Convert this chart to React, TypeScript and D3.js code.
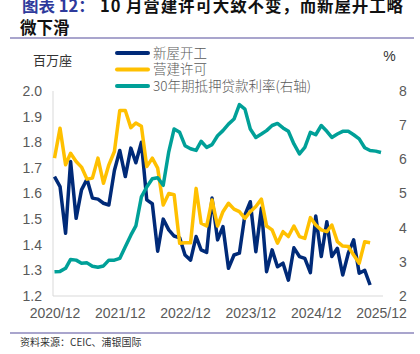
import React, { useEffect, useRef } from "react";
import {
  select,
  scaleLinear,
  scaleTime,
  axisLeft,
  axisRight,
  axisBottom,
  line,
} from "d3";

const width = 420;
const height = 354;
const plotLeft = 53;
const plotRight = 383;
const plotTop = 91;
const plotBottom = 296;

// 新屋开工 (百万座), 2020/12 - 2025/10
const starts = [
  1.666, 1.627, 1.445, 1.725, 1.503, 1.614, 1.656, 1.582, 1.578, 1.562, 1.555,
  1.69, 1.768, 1.666, 1.777, 1.72, 1.8, 1.575, 1.56, 1.375, 1.5, 1.458, 1.434,
  1.427, 1.36, 1.34, 1.432, 1.38, 1.37, 1.582, 1.419, 1.471, 1.308, 1.36,
  1.367, 1.516, 1.568, 1.373, 1.543, 1.295, 1.38, 1.314, 1.328, 1.262, 1.388,
  1.354, 1.347, 1.291, 1.512, 1.354, 1.49, 1.354, 1.386, 1.282, 1.367, 1.419,
  1.289, 1.3, 1.243,
];

// 营建许可 (百万座), 2020/12 - 2025/10
const permits = [
  1.738, 1.855, 1.712, 1.757, 1.725, 1.703, 1.656, 1.66, 1.738, 1.64, 1.712,
  1.764, 1.924, 1.924, 1.857, 1.875, 1.862, 1.705, 1.738, 1.699, 1.555, 1.6,
  1.595, 1.406, 1.408, 1.408, 1.62, 1.484, 1.473, 1.575, 1.473, 1.529, 1.562,
  1.539, 1.529, 1.503, 1.529, 1.549, 1.578, 1.473, 1.458, 1.406, 1.451, 1.432,
  1.473, 1.432, 1.425, 1.506, 1.477, 1.458, 1.451, 1.477, 1.412, 1.395, 1.393,
  1.36, 1.328, 1.412, 1.408,
];

// 30年期抵押贷款利率 (%), 2020/12 - 2025/12
const mortgage = [
  2.71, 2.72, 2.81, 3.07, 3.05, 2.96, 2.97, 2.87, 2.84, 2.88, 3.05, 3.05, 3.1,
  3.44, 3.78, 4.05, 4.9, 5.19, 5.43, 5.46, 5.24, 6.22, 6.89, 6.79, 6.4, 6.31,
  6.26, 6.53, 6.35, 6.43, 6.69, 6.84, 7.03, 7.18, 7.6, 7.47, 6.89, 6.64, 6.74,
  6.84, 6.99, 7.05, 6.92, 6.82, 6.45, 6.16, 6.35, 6.79, 6.72, 6.99, 6.82, 6.64,
  6.74, 6.82, 6.82, 6.72, 6.6, 6.34, 6.26, 6.24, 6.2,
];

const xTickLabels = ["2020/12", "2021/12", "2022/12", "2023/12", "2024/12", "2025/12"];
const leftTicks = [1.2, 1.3, 1.4, 1.5, 1.6, 1.7, 1.8, 1.9, 2.0];
const rightTicks = [2, 3, 4, 5, 6, 7, 8];

const legendItems = [
  { label: "新屋开工", color: "#002a78" },
  { label: "营建许可", color: "#ffc000" },
  { label: "30年期抵押贷款利率(右轴)", color: "#00a098" },
];

const monthOf = (i: number) => new Date(2020, 11 + i, 1);
const parseTick = (s: string) => {
  const [y, m] = s.split("/").map(Number);
  return new Date(y, m - 1, 1);
};

const App = () => {
  const svgRef = useRef<SVGSVGElement>(null);

  useEffect(() => {
    const svg = select(svgRef.current);
    svg.selectAll("*").remove();

    const x = scaleTime()
      .domain([parseTick(xTickLabels[0]), parseTick(xTickLabels[xTickLabels.length - 1])])
      .range([54.5, 381]);
    const yL = scaleLinear().domain([1.2, 2.0]).range([plotBottom, plotTop]);
    const yR = scaleLinear().domain([2, 8]).range([plotBottom, plotTop]);

    // title
    const titleFont = (t: any) =>
      t
        .attr("font-size", 16.5)
        .attr("font-weight", "bold")
        .attr("font-family", "'Noto Sans CJK SC'");
    svg
      .append("text")
      .attr("x", 22)
      .attr("y", 11.5)
      .attr("fill", "#2e3a9c")
      .call(titleFont)
      .text("图表 12：");
    svg
      .append("text")
      .attr("x", 100)
      .attr("y", 11.5)
      .attr("fill", "#111")
      .call(titleFont)
      .attr("textLength", 303)
      .attr("lengthAdjust", "spacing")
      .text("10 月营建许可大致不变，而新屋开工略");
    svg
      .append("text")
      .attr("x", 20)
      .attr("y", 34)
      .attr("fill", "#111")
      .call(titleFont)
      .text("微下滑");

    // separator lines
    [38, 333].forEach((yy) => {
      svg
        .append("line")
        .attr("x1", 10)
        .attr("x2", 414)
        .attr("y1", yy)
        .attr("y2", yy)
        .attr("stroke", "#a9a5cd")
        .attr("stroke-width", 2);
    });

    svg
      .append("text")
      .attr("x", 20)
      .attr("y", 345.5)
      .attr("fill", "#333")
      .attr("font-size", 10)
      .attr("font-family", "'Noto Sans CJK SC'")
      .text("资料来源：CEIC、浦银国际");

    // unit labels
    svg
      .append("text")
      .attr("x", 52.5)
      .attr("y", 64.5)
      .attr("text-anchor", "middle")
      .attr("fill", "#333")
      .attr("font-size", 13)
      .attr("font-family", "'Noto Sans CJK SC'")
      .text("百万座");
    svg
      .append("text")
      .attr("x", 389.5)
      .attr("y", 61)
      .attr("text-anchor", "middle")
      .attr("fill", "#333")
      .attr("font-size", 14)
      .attr("font-family", "'Liberation Sans'")
      .text("%");

    // axis lines
    svg
      .append("line")
      .attr("x1", plotLeft)
      .attr("x2", plotLeft)
      .attr("y1", plotTop)
      .attr("y2", plotBottom)
      .attr("stroke", "#d9d9d9");
    svg
      .append("line")
      .attr("x1", plotLeft)
      .attr("x2", plotRight)
      .attr("y1", plotBottom)
      .attr("y2", plotBottom)
      .attr("stroke", "#d9d9d9");

    const styleAxis = (g: any) => {
      g.select(".domain").remove();
      g.selectAll("text")
        .attr("fill", "#595959")
        .attr("font-size", 14)
        .attr("font-family", "'Liberation Sans'");
    };

    svg
      .append("g")
      .attr("transform", `translate(${plotLeft},0)`)
      .call(
        axisLeft(yL)
          .tickValues(leftTicks)
          .tickSize(0)
          .tickPadding(11)
          .tickFormat((d: any) => d.toFixed(1)),
      )
      .call(styleAxis);

    svg
      .append("g")
      .attr("transform", `translate(${plotRight},0)`)
      .call(
        axisRight(yR)
          .tickValues(rightTicks)
          .tickSize(0)
          .tickPadding(16)
          .tickFormat((d: any) => String(d)),
      )
      .call(styleAxis);

    svg
      .append("g")
      .attr("transform", `translate(0,${plotBottom})`)
      .call(
        axisBottom(x)
          .tickValues(xTickLabels.map(parseTick))
          .tickSize(0)
          .tickPadding(12)
          .tickFormat((_d: any, i: number) => xTickLabels[i]),
      )
      .call(styleAxis);

    // series
    const leftLine = line<number>()
      .x((_d, i) => x(monthOf(i)))
      .y((d) => yL(d));
    const rightLine = line<number>()
      .x((_d, i) => x(monthOf(i)))
      .y((d) => yR(d));

    const drawSeries = (data: number[], gen: any, color: string) => {
      svg
        .append("path")
        .datum(data)
        .attr("fill", "none")
        .attr("stroke", color)
        .attr("stroke-width", 3.5)
        .attr("stroke-linejoin", "round")
        .attr("d", gen);
    };
    drawSeries(starts, leftLine, legendItems[0].color);
    drawSeries(permits, leftLine, legendItems[1].color);
    drawSeries(mortgage, rightLine, legendItems[2].color);

    // legend
    const legend = svg.append("g");
    legendItems.forEach((item, i) => {
      const yy = 53 + i * 16.5;
      legend
        .append("line")
        .attr("x1", 117)
        .attr("x2", 148)
        .attr("y1", yy)
        .attr("y2", yy)
        .attr("stroke", item.color)
        .attr("stroke-width", 4)
        .attr("stroke-linecap", "round");
      legend
        .append("text")
        .attr("x", 153)
        .attr("y", yy)
        .attr("dy", "0.36em")
        .attr("fill", "#595959")
        .attr("font-size", 13.5)
        .attr("font-weight", 300)
        .attr("font-family", "'Noto Sans CJK SC'")
        .text(item.label);
    });
  }, []);

  return (
    <svg
      ref={svgRef}
      width={width}
      height={height}
      style={{ position: "absolute", left: 0, top: 0, background: "#fff" }}
    />
  );
};

export default App;
